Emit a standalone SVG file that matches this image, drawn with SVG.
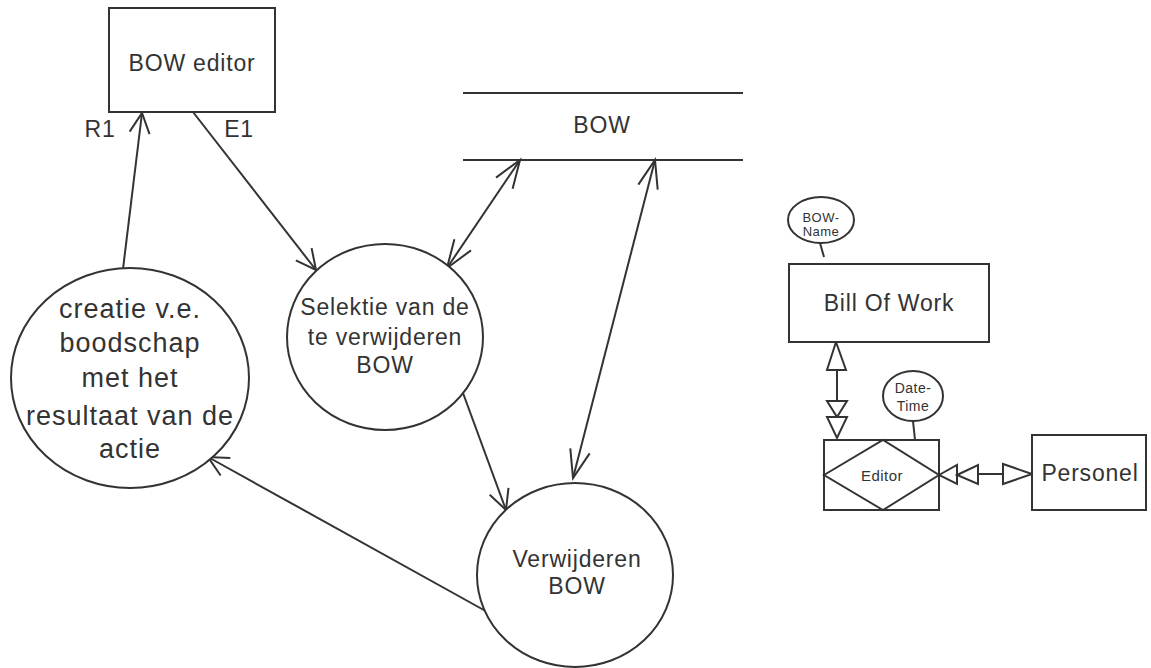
<svg xmlns="http://www.w3.org/2000/svg" width="1151" height="668" viewBox="0 0 1151 668">
<style>
.s{fill:#fff;stroke:#333;stroke-width:2}
.l{fill:none;stroke:#333;stroke-width:2}
text{font-family:"Liberation Sans",Arial,sans-serif;fill:#333;text-anchor:middle}
.t23{font-size:23px;letter-spacing:0.8px}
.t27{font-size:27px;letter-spacing:1px}
.t14{font-size:14px;letter-spacing:0.5px}
</style>
<defs>
<marker id="v" markerUnits="userSpaceOnUse" markerWidth="40" markerHeight="40" refX="0" refY="0" orient="auto-start-reverse" overflow="visible">
<path d="M-20,-10 L0,0 L-20,10" fill="none" stroke="#333" stroke-width="2"/>
</marker>
<marker id="vl" markerUnits="userSpaceOnUse" markerWidth="40" markerHeight="40" refX="0" refY="0" orient="auto-start-reverse" overflow="visible">
<path d="M-28,-10 L0,0 L-28,10" fill="none" stroke="#333" stroke-width="2"/>
</marker>
</defs>
<rect width="1151" height="668" fill="#fff"/>

<g id="connectors">
<line class="l" x1="123" y1="269" x2="142" y2="113" marker-end="url(#v)"/>
<line class="l" x1="193" y1="112" x2="316" y2="270" marker-end="url(#v)"/>
<line class="l" x1="447" y1="268" x2="520" y2="160" marker-start="url(#vl)" marker-end="url(#vl)"/>
<line class="l" x1="573" y1="478" x2="655" y2="160" marker-start="url(#vl)" marker-end="url(#vl)"/>
<line class="l" x1="463" y1="393" x2="506" y2="510" marker-end="url(#v)"/>
<line class="l" x1="491" y1="614" x2="208" y2="457" marker-end="url(#v)"/>
<text class="t23" x="100" y="137">R1</text>
<text class="t23" x="239" y="137">E1</text>
<!-- ER connectors -->
<line class="l" x1="837" y1="370" x2="837" y2="401"/>
<polygon class="s" points="836,342 827,370 846,370"/>
<polygon class="s" points="827,401 847,401 837,417"/>
<polygon class="s" points="827,417 847,417 837,438"/>
<line class="l" x1="978" y1="474" x2="1003" y2="474"/>
<polygon class="s" points="939,475 957,465 957,484"/>
<polygon class="s" points="957,475 978,465 978,484"/>
<polygon class="s" points="1003,464 1003,484 1032,474"/>
<line class="l" x1="820" y1="243" x2="824" y2="257"/>
<line class="l" x1="913" y1="421" x2="915" y2="440"/>
</g>

<g id="bow-editor">
<rect class="s" x="109" y="8" width="166" height="104"/>
<text class="t23" x="192" y="71">BOW editor</text>
</g>

<g id="bow-store">
<line class="l" x1="463" y1="93" x2="743" y2="93"/>
<line class="l" x1="463" y1="160" x2="743" y2="160"/>
<text class="t23" x="602" y="133">BOW</text>
</g>

<g id="creatie">
<ellipse class="s" cx="130" cy="378" rx="119" ry="110"/>
<text class="t27" x="130" y="318">creatie v.e.</text>
<text class="t27" x="130" y="352">boodschap</text>
<text class="t27" x="130" y="387">met het</text>
<text class="t27" x="130" y="425">resultaat van de</text>
<text class="t27" x="130" y="458">actie</text>
</g>

<g id="selektie">
<ellipse class="s" cx="385" cy="337" rx="98" ry="93"/>
<text class="t23" x="385" y="315">Selektie van de</text>
<text class="t23" x="385" y="345">te verwijderen</text>
<text class="t23" x="385" y="373">BOW</text>
</g>

<g id="verwijderen">
<ellipse class="s" cx="575" cy="575" rx="98" ry="92"/>
<text class="t23" x="577" y="567">Verwijderen</text>
<text class="t23" x="577" y="594">BOW</text>
</g>

<g id="bow-name">
<ellipse class="s" cx="821" cy="220" rx="33" ry="23"/>
<text class="t14" x="821" y="222" style="font-size:13px">BOW-</text>
<text class="t14" x="821" y="236" style="font-size:13px">Name</text>
</g>

<g id="bill-of-work">
<rect class="s" x="789" y="264" width="200" height="78"/>
<text class="t23" x="889" y="311">Bill Of Work</text>
</g>

<g id="date-time">
<ellipse class="s" cx="913" cy="396" rx="30" ry="25"/>
<text class="t14" x="913" y="393">Date-</text>
<text class="t14" x="913" y="411">Time</text>
</g>

<g id="editor">
<rect class="s" x="824" y="440" width="115" height="70"/>
<polygon class="l" points="824,475 883,440 939,475 883,510"/>
<text class="t14" x="882" y="481" style="font-size:15px">Editor</text>
</g>

<g id="personel">
<rect class="s" x="1032" y="435" width="114" height="75"/>
<text class="t23" x="1090" y="481">Personel</text>
</g>
</svg>
